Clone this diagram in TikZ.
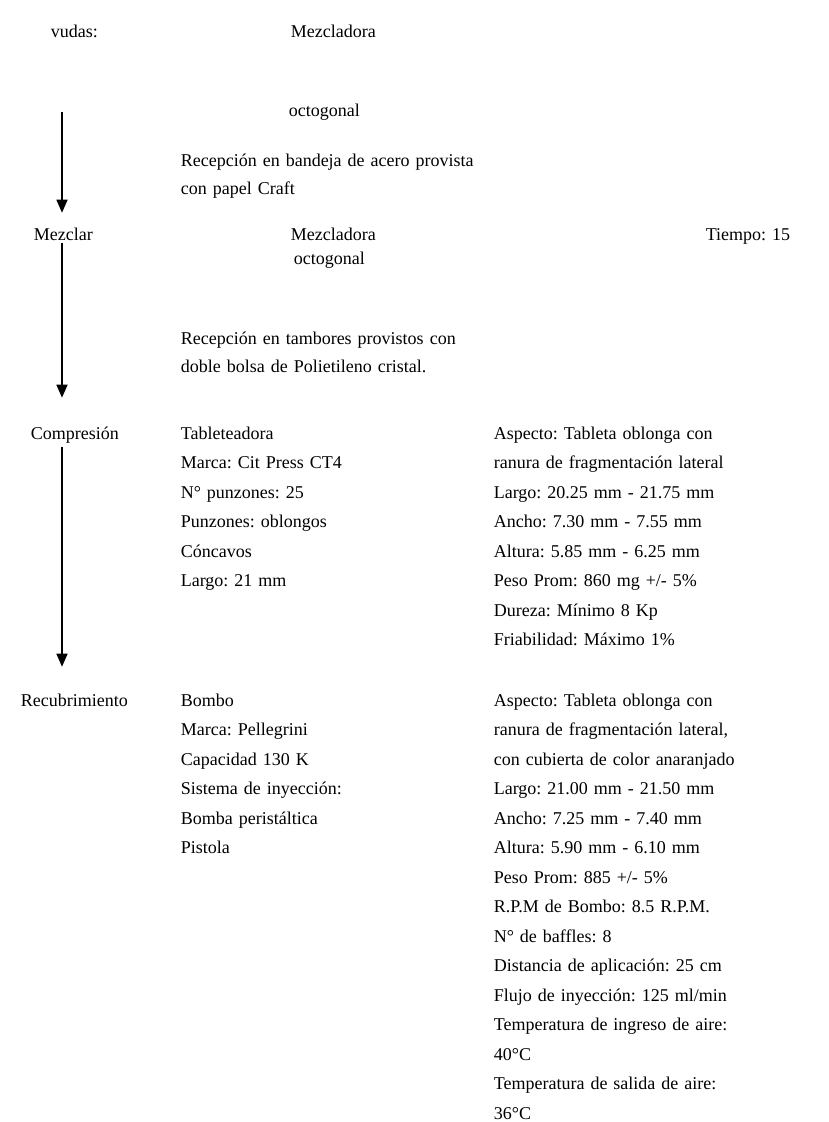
\documentclass[tikz,border=0pt]{standalone}
\usepackage{fontspec}
\setmainfont{Liberation Serif}
\usepackage{tikz}
\usetikzlibrary{arrows.meta}
\frenchspacing
\newcommand{\anchoesp}{\spaceskip=10pt plus 2pt minus 1pt\relax}

\tikzset{
  txt/.style={anchor=base west,inner sep=0pt,align=left,text width=12cm,font=\fontsize{18}{29.5}\selectfont\anchoesp},
  txtb/.style={txt,font=\fontsize{18}{28}\selectfont\anchoesp}
}

\begin{document}
\begin{tikzpicture}[->,>={Triangle[width=11pt,length=13pt]},line width=1.6pt,x=1pt,y=-1pt]
\useasboundingbox[fill=white] (0,0) rectangle (828,1122);

% pasos
\node[txt] (vudas)  at (50,37)  {vudas:};
\node[txt] (mezclar) at (33,240) {Mezclar};
\node[txt] (compresion) at (30,439) {Compresión};
\node[txt] (recub) at (20,706) {Recubrimiento};

% equipos
\node[txt] (mezc1) at (290,37)  {Mezcladora};
\node[txt] (oct1)  at (288,116) {octogonal};
\node[txtb] (recep1) at (180,166) {Recepción en bandeja de acero provista\\con papel Craft};
\node[txtb,font=\fontsize{18}{24}\selectfont] (mezc2) at (290,240) {Mezcladora\\ \,octogonal};
\node[txt] (tiempo) at (705,240) {Tiempo: 15};
\node[txtb] (recep2) at (180,344) {Recepción en tambores provistos con\\ doble bolsa de Polietileno cristal.};

\node[txt] (tablet) at (180,439) {Tableteadora\\Marca: Cit Press CT4\\N° punzones: 25\\Punzones: oblongos\\Cóncavos\\Largo: 21 mm};
\node[txt] (asp1) at (493,439) {Aspecto: Tableta oblonga con\\ranura de fragmentación lateral\\Largo: 20.25 mm - 21.75 mm\\Ancho: 7.30 mm - 7.55 mm\\Altura: 5.85 mm - 6.25 mm\\Peso Prom: 860 mg +/- 5\%\\Dureza: Mínimo 8 Kp\\Friabilidad: Máximo 1\%};

\node[txt] (bombo) at (180,706) {Bombo\\Marca: Pellegrini\\Capacidad 130 K\\Sistema de inyección:\\Bomba peristáltica\\Pistola};
\node[txt] (asp2) at (493,706) {Aspecto: Tableta oblonga con\\ranura de fragmentación lateral,\\con cubierta de color anaranjado\\Largo: 21.00 mm - 21.50 mm\\Ancho: 7.25 mm - 7.40 mm\\Altura: 5.90 mm - 6.10 mm\\Peso Prom: 885 +/- 5\%\\R.P.M de Bombo: 8.5 R.P.M.\\N° de baffles: 8\\Distancia de aplicación: 25 cm\\Flujo de inyección: 125 ml/min\\Temperatura de ingreso de aire:\\40°C\\Temperatura de salida de aire:\\36°C};

% flechas
\coordinate (col) at (62,0);
\coordinate (f1) at (62,112);

\draw (f1) -- (mezclar.north -| col) [shorten >=14pt];
\draw (mezclar.south -| col) -- (compresion.north -| col) [shorten <=2pt,shorten >=28pt];
\draw (compresion.south -| col) -- (recub.north -| col) [shorten <=3pt,shorten >=26pt];
\end{tikzpicture}
\end{document}
